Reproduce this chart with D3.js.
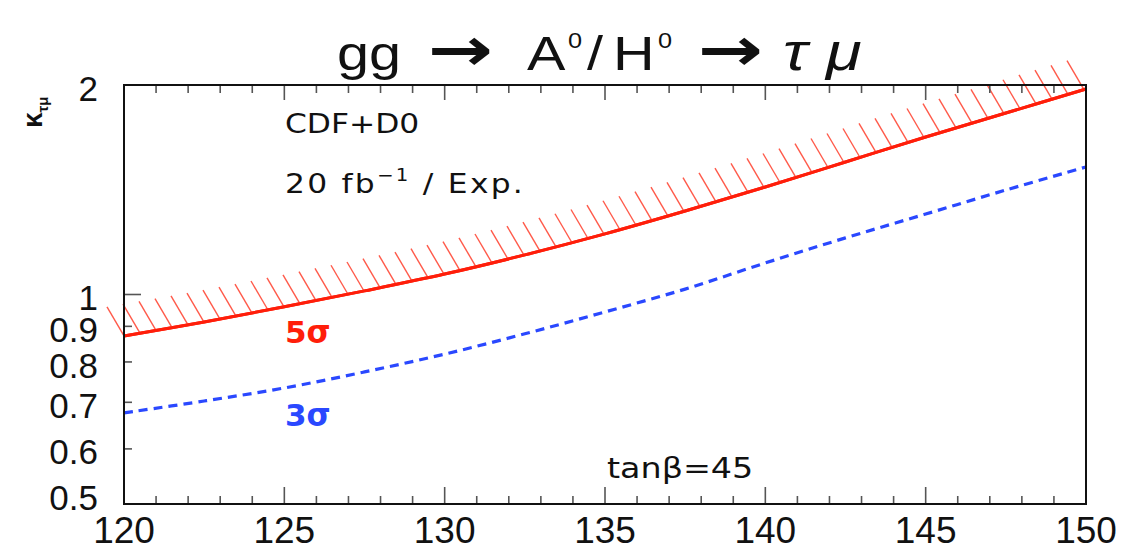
<!DOCTYPE html>
<html>
<head>
<meta charset="utf-8">
<script src="https://cdn.jsdelivr.net/npm/d3@7"></script>
<style>
  html, body { margin: 0; padding: 0; background: #ffffff; }
  svg { display: block; }
</style>
</head>
<body>
<svg id="chart" width="1126" height="551"></svg>
<script>
// Higgs mass points (GeV) and the reach in kappa_tau-mu at each mass
const massPoints   = [120, 122.5, 125, 127.5, 130, 132.5, 135, 137.5, 140, 142.5, 145, 147.5, 150];
const kappa5sigma  = [0.872, 0.913, 0.960, 1.012, 1.070, 1.140, 1.222, 1.318, 1.427, 1.550, 1.684, 1.823, 1.974];
const kappa3sigma  = [0.676, 0.703, 0.734, 0.774, 0.821, 0.878, 0.944, 1.018, 1.110, 1.206, 1.305, 1.413, 1.525];

// Axis ticks
const xMajorTicks  = [120, 125, 130, 135, 140, 145, 150];
const xMinorTicks  = [121, 122, 123, 124, 126, 127, 128, 129, 131, 132, 133, 134,
                      136, 137, 138, 139, 141, 142, 143, 144, 146, 147, 148, 149];
const yLabelValues = [0.5, 0.6, 0.7, 0.8, 0.9, 1, 2];
const yLabelTexts  = ["0.5", "0.6", "0.7", "0.8", "0.9", "1", "2"];
const yMajorTicks  = [1];
const yMinorTicks  = [0.6, 0.7, 0.8, 0.9];

const svg = d3.select("#chart");
const frame = { left: 124, right: 1086, top: 85, bottom: 504 };

const x = d3.scaleLinear().domain([120, 150]).range([frame.left, frame.right]);
const y = d3.scaleLog().domain([0.5, 2]).range([frame.bottom, frame.top]);

const axisFont = "'Liberation Sans', Arial, Helvetica, sans-serif";
const textFont = "'DejaVu Sans', 'Liberation Sans', sans-serif";
const red = "#ff1e0a", blue = "#2a48ff";

// ---- curves ----
const line = d3.line()
  .x((d, i) => x(massPoints[i]))
  .y(d => y(d))
  .curve(d3.curveCatmullRom);

const redPath = svg.append("path")
  .attr("d", line(kappa5sigma))
  .attr("fill", "none")
  .attr("stroke", red)
  .attr("stroke-width", 3);

// hatch marks on the excluded side of the 5 sigma curve
const node = redPath.node();
const total = node.getTotalLength();
const samples = d3.range(0, 2001).map(k => node.getPointAtLength(total * k / 2000));
const yAt = px => {
  const i = d3.bisector(p => p.x).left(samples, px);
  if (i <= 0) return samples[0].y;
  if (i >= samples.length) return samples[samples.length - 1].y;
  const a = samples[i - 1], b = samples[i];
  const t = b.x === a.x ? 0 : (px - a.x) / (b.x - a.x);
  return a.y + t * (b.y - a.y);
};
const hatchStep = 16, hatchDx = 17, hatchDy = 29;
const hatchX = d3.range(frame.left, frame.right + 0.5, hatchStep);
svg.append("g")
  .selectAll("line")
  .data(hatchX)
  .join("line")
  .attr("x1", d => d)
  .attr("y1", d => yAt(d))
  .attr("x2", d => d - hatchDx)
  .attr("y2", d => yAt(d) - hatchDy)
  .attr("stroke", "#ff5a4a")
  .attr("stroke-width", 1.4);

// curve redrawn above its hatches
svg.append("path")
  .attr("d", line(kappa5sigma))
  .attr("fill", "none")
  .attr("stroke", red)
  .attr("stroke-width", 3);

svg.append("path")
  .attr("d", line(kappa3sigma))
  .attr("fill", "none")
  .attr("stroke", blue)
  .attr("stroke-width", 3.2)
  .attr("stroke-dasharray", "9,6");

// ---- frame and ticks ----
const ticks = svg.append("g").attr("stroke", "#555").attr("stroke-width", 1.6);
// bottom
ticks.selectAll(".xb").data(xMajorTicks).join("line")
  .attr("x1", d => x(d)).attr("x2", d => x(d))
  .attr("y1", frame.bottom).attr("y2", frame.bottom - 17);
ticks.selectAll(".xbm").data(xMinorTicks).join("line")
  .attr("x1", d => x(d)).attr("x2", d => x(d))
  .attr("y1", frame.bottom).attr("y2", frame.bottom - 8);
// top
ticks.selectAll(".xt").data(xMajorTicks).join("line")
  .attr("x1", d => x(d)).attr("x2", d => x(d))
  .attr("y1", frame.top).attr("y2", frame.top + 15);
ticks.selectAll(".xtm").data(xMinorTicks).join("line")
  .attr("x1", d => x(d)).attr("x2", d => x(d))
  .attr("y1", frame.top).attr("y2", frame.top + 8);
// left
ticks.selectAll(".yl").data(yMajorTicks).join("line")
  .attr("x1", frame.left).attr("x2", frame.left + 17)
  .attr("y1", d => y(d)).attr("y2", d => y(d));
ticks.selectAll(".ylm").data(yMinorTicks).join("line")
  .attr("x1", frame.left).attr("x2", frame.left + 8)
  .attr("y1", d => y(d)).attr("y2", d => y(d));

svg.append("rect")
  .attr("x", frame.left).attr("y", frame.top)
  .attr("width", frame.right - frame.left)
  .attr("height", frame.bottom - frame.top)
  .attr("fill", "none")
  .attr("stroke", "#111")
  .attr("stroke-width", 2);

// ---- tick labels ----
svg.append("g").selectAll("text").data(xMajorTicks).join("text")
  .attr("x", d => x(d))
  .attr("y", frame.bottom + 39)
  .attr("text-anchor", "middle")
  .attr("font-family", axisFont)
  .attr("font-size", 37)
  .attr("fill", "#111")
  .text(d => d);

svg.append("g").selectAll("text").data(yLabelValues).join("text")
  .attr("x", frame.left - 26)
  .attr("y", d => y(d) + (d === 0.5 ? -7 : 3))
  .attr("dy", "0.36em")
  .attr("text-anchor", "end")
  .attr("font-family", axisFont)
  .attr("font-size", 35)
  .attr("fill", "#111")
  .text((d, i) => yLabelTexts[i]);

// ---- axis title ----
const yTitle = svg.append("text")
  .attr("transform", "translate(42,128) rotate(-90)")
  .attr("font-family", axisFont)
  .attr("font-weight", "bold")
  .attr("fill", "#111");
yTitle.append("tspan").attr("font-size", 28).text("κ");
yTitle.append("tspan").attr("font-size", 15).attr("dy", 6).text("τμ");

// ---- title: gg -> A0/H0 -> tau mu ----
const titleBase = 70;
const titleParts = [
  { t: "gg", at: 337, size: 48, sx: 1.2,  dy: 0 },
  { t: "→",  at: 428, size: 60, sx: 1.3,  dy: 0, arrow: true },
  { t: "A",  at: 527, size: 48, sx: 1.2,  dy: 0 },
  { t: "0",  at: 568, size: 22, sx: 1.15, dy: -22 },
  { t: "/",  at: 587, size: 48, sx: 1.2,  dy: 0 },
  { t: "H",  at: 613, size: 48, sx: 1.2,  dy: 0 },
  { t: "0",  at: 658, size: 22, sx: 1.15, dy: -22 },
  { t: "→",  at: 698, size: 60, sx: 1.3,  dy: 0, arrow: true },
  { t: "τ",  at: 783, size: 52, sx: 1.25, dy: 0, italic: true },
  { t: "μ",  at: 826, size: 52, sx: 1.25, dy: 0, italic: true }
];
svg.append("g").selectAll("text").data(titleParts).join("text")
  .attr("transform", d => `translate(${d.at},${titleBase + d.dy}) scale(${d.sx},1)`)
  .attr("font-family", d => d.arrow ? textFont : axisFont)
  .attr("font-weight", d => d.arrow ? "bold" : "normal")
  .attr("font-style", d => d.italic ? "italic" : "normal")
  .attr("font-size", d => d.size)
  .attr("fill", "#111")
  .text(d => d.t);

// ---- annotations ----
svg.append("text")
  .attr("transform", "translate(285,133) scale(1.16,1)")
  .attr("font-family", textFont).attr("font-size", 27).attr("fill", "#111")
  .text("CDF+D0");

const lumi = svg.append("text")
  .attr("transform", "translate(285,193) scale(1.16,1)")
  .attr("font-family", textFont).attr("font-size", 27).attr("fill", "#111")
  .attr("textLength", 205).attr("lengthAdjust", "spacing");
lumi.append("tspan").text("20 fb");
lumi.append("tspan").attr("font-size", 17).attr("dy", -12).text("−1");
lumi.append("tspan").attr("dy", 12).text(" / Exp.");

svg.append("text")
  .attr("transform", "translate(607,478) scale(1.15,1)")
  .attr("font-family", textFont).attr("font-size", 29).attr("fill", "#111")
  .text("tanβ=45");

svg.append("text")
  .attr("x", 285).attr("y", 343)
  .attr("font-family", textFont).attr("font-size", 31).attr("font-weight", "bold")
  .attr("fill", red)
  .text("5σ");

svg.append("text")
  .attr("x", 285).attr("y", 426)
  .attr("font-family", textFont).attr("font-size", 31).attr("font-weight", "bold")
  .attr("fill", blue)
  .text("3σ");
</script>
</body>
</html>
